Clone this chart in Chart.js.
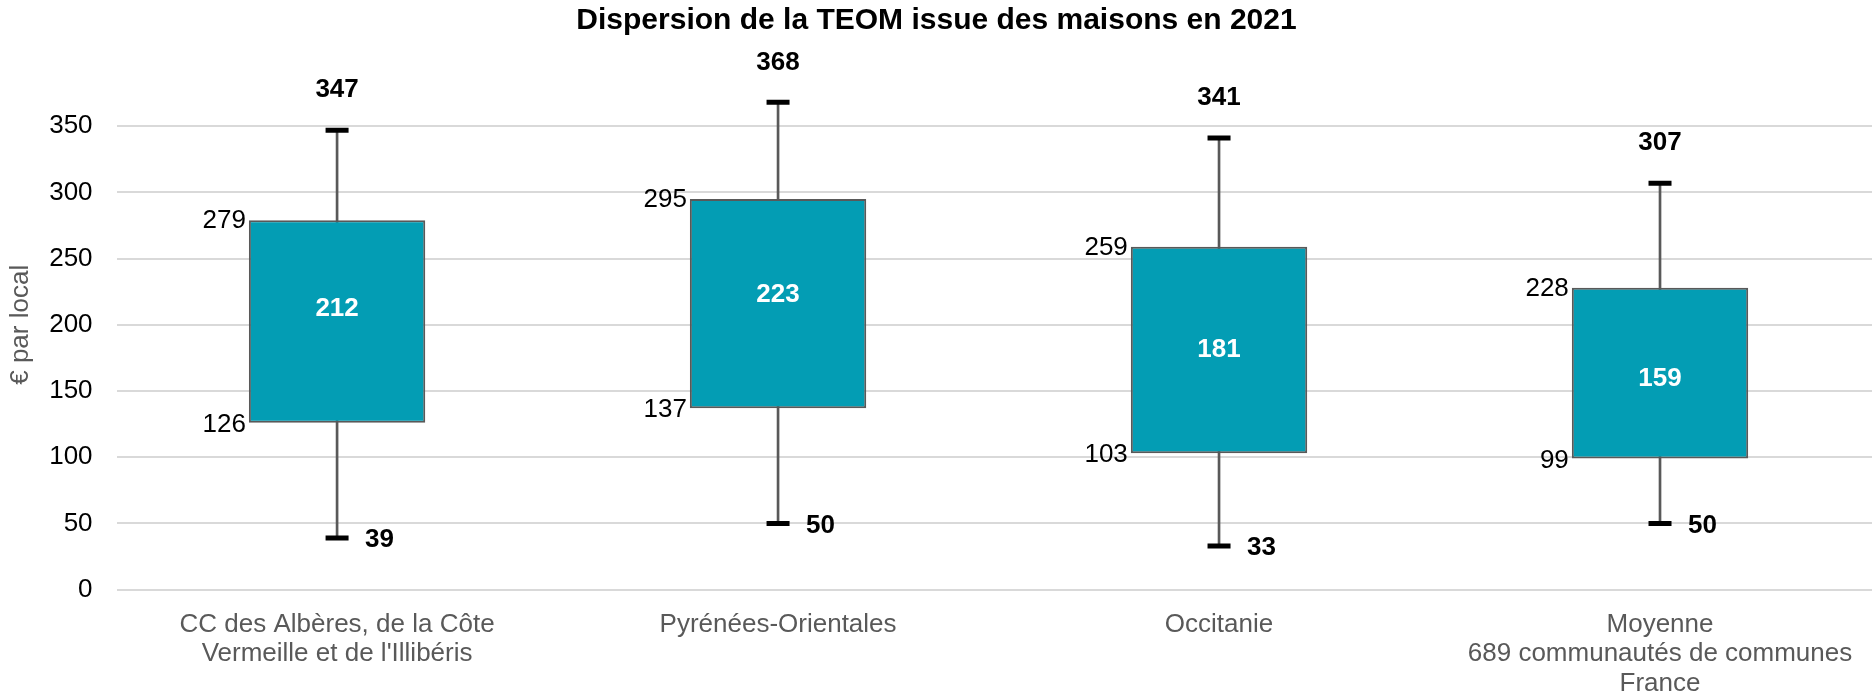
<!DOCTYPE html>
<html>
<head>
<meta charset="utf-8">
<script src="https://cdn.jsdelivr.net/npm/chart.js@4/dist/chart.umd.min.js"></script>
<style>
  html, body { margin: 0; padding: 0; background: #fff; overflow: hidden; }
  #wrap { width: 1872px; height: 696px; overflow: hidden; }
</style>
</head>
<body>
<div id="wrap"><canvas id="boxChart" width="1897" height="696"></canvas></div>
<script>
// chart values
var categories = [
  ["CC des Albères, de la Côte", "Vermeille et de l'Illibéris"],
  "Pyrénées-Orientales",
  "Occitanie",
  ["Moyenne", "689 communautés de communes", "France"]
];
var minima  = [39, 50, 33, 50];
var q1      = [126, 137, 103, 99];
var medians = [212, 223, 181, 159];
var q3      = [279, 295, 259, 228];
var maxima  = [347, 368, 341, 307];
var yTicks  = [0, 50, 100, 150, 200, 250, 300, 350];

var FONT = "'Liberation Sans', Arial, sans-serif";
var TEAL = '#039db4';

var boxes = q1.map(function(v, i){ return [v, q3[i]]; });
var whiskers = minima.map(function(v, i){ return [v, maxima[i]]; });

// value labels around each box
var boxLabels = {
  id: 'boxLabels',
  afterDatasetsDraw: function(chart){
    var ctx = chart.ctx, y = chart.scales.y;
    var boxMeta = chart.getDatasetMeta(1);
    ctx.save();
    boxMeta.data.forEach(function(bar, i){
      var left = bar.x - bar.width / 2;
      ctx.textBaseline = 'middle';
      // q3 / q1 plain labels at left of box
      ctx.font = '26px ' + FONT;
      ctx.fillStyle = '#000';
      ctx.textAlign = 'right';
      ctx.fillText(q3[i], left - 3, y.getPixelForValue(q3[i]) + 1);
      ctx.fillText(q1[i], left - 3, y.getPixelForValue(q1[i]) + 2);
      // max above the cap, min at right of the cap
      ctx.font = 'bold 26px ' + FONT;
      ctx.textAlign = 'center';
      ctx.fillText(maxima[i], bar.x, y.getPixelForValue(maxima[i]) - 40);
      ctx.textAlign = 'left';
      ctx.fillText(minima[i], bar.x + 28, y.getPixelForValue(minima[i]) + 2);
      // median inside
      ctx.fillStyle = '#fff';
      ctx.textAlign = 'center';
      ctx.fillText(medians[i], bar.x, y.getPixelForValue(medians[i]));
    });
    ctx.restore();
  }
};

var capPoint = {
  showLine: false,
  pointStyle: 'line',
  pointRadius: 11.5,
  pointHoverRadius: 11.5,
  pointBorderWidth: 5,
  pointBorderColor: '#000',
  pointBackgroundColor: '#000'
};

new Chart(document.getElementById('boxChart').getContext('2d'), {
  type: 'bar',
  data: {
    labels: categories,
    datasets: [
      { label: 'min-max', data: whiskers, backgroundColor: '#595959', barThickness: 2, grouped: false, order: 3 },
      { label: 'Q1-Q3', data: boxes, backgroundColor: TEAL, borderColor: '#595959', borderWidth: 2,
        borderSkipped: false, grouped: false, barPercentage: 0.4, categoryPercentage: 1, order: 2 },
      Object.assign({ type: 'line', label: 'max', data: maxima, order: 1 }, capPoint),
      Object.assign({ type: 'line', label: 'min', data: minima, order: 1 }, capPoint)
    ]
  },
  options: {
    responsive: false,
    devicePixelRatio: 1,
    animation: false,
    events: [],
    layout: { padding: { left: -24, right: 0, top: 0, bottom: -15 } },
    plugins: {
      legend: { display: false },
      tooltip: { enabled: false },
      title: {
        display: true,
        text: 'Dispersion de la TEOM issue des maisons en 2021',
        color: '#000',
        font: { family: FONT, size: 30, weight: 'bold', lineHeight: 1.2 },
        padding: { top: 3, bottom: 21 }
      }
    },
    scales: {
      x: {
        offset: true,
        grid: { display: false },
        border: { display: false },
        ticks: {
          color: '#595959',
          padding: 13,
          maxRotation: 0,
          autoSkip: false,
          font: { family: FONT, size: 26, lineHeight: 1.12 }
        }
      },
      y: {
        min: 0,
        max: 400,
        afterBuildTicks: function(scale){
          scale.ticks = yTicks.map(function(v){ return { value: v }; });
        },
        grid: { color: '#d9d9d9', lineWidth: 2, drawTicks: false },
        border: { display: false },
        ticks: {
          color: '#000',
          padding: 24,
          font: { family: FONT, size: 26 }
        },
        title: {
          display: true,
          text: '€ par local',
          color: '#595959',
          font: { family: FONT, size: 26, lineHeight: 1.2 },
          padding: { top: 29, bottom: -11 }
        }
      }
    }
  },
  plugins: [boxLabels]
});
</script>
</body>
</html>
